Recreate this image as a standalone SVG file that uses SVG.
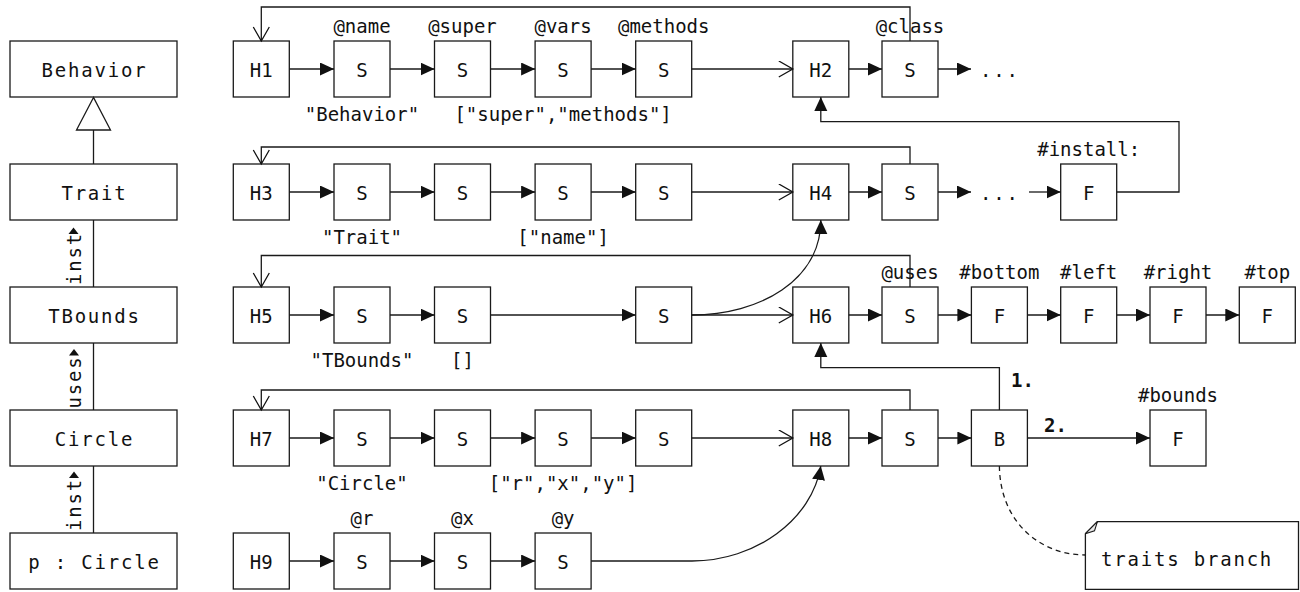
<svg xmlns="http://www.w3.org/2000/svg" width="1300" height="592" viewBox="0 0 1300 592">
<style>
  rect.n { fill: #fff; stroke: #1a1a1a; stroke-width: 1.3; }
  text { font-family: "DejaVu Sans Mono", "Liberation Mono", monospace; font-size: 19px; fill: #111; }
  text.c { text-anchor: middle; }
  text.sp { letter-spacing: 1.8px; }
  text.b { font-weight: bold; }
  .e { fill: none; stroke: #1a1a1a; stroke-width: 1.3; }
  .f { marker-end: url(#fa); }
  .o { marker-end: url(#oa); }
  .d { stroke-dasharray: 5 4; }
</style>
<defs>
  <marker id="fa" markerUnits="userSpaceOnUse" markerWidth="16" markerHeight="14" refX="14" refY="6.5" orient="auto">
    <path d="M0,0 L14,6.5 L0,13 Z" fill="#111"/>
  </marker>
  <marker id="oa" markerUnits="userSpaceOnUse" markerWidth="17" markerHeight="18" refX="15" refY="8.5" orient="auto">
    <path d="M1,0.5 L15,8.5 L1,16.5" fill="none" stroke="#111" stroke-width="1.3"/>
  </marker>
</defs>
<rect width="1300" height="592" fill="#fff"/>

<!-- left column classes -->
<g id="cls-behavior"><rect class="n" x="10" y="41" width="167" height="56"/><text class="c sp" x="94.5" y="76.5">Behavior</text></g>
<g id="cls-trait"><rect class="n" x="10" y="164" width="167" height="56"/><text class="c sp" x="94.5" y="199.5">Trait</text></g>
<g id="cls-tbounds"><rect class="n" x="10" y="287" width="167" height="56"/><text class="c sp" x="94.5" y="322.5">TBounds</text></g>
<g id="cls-circle"><rect class="n" x="10" y="410" width="167" height="56"/><text class="c sp" x="94.5" y="445.5">Circle</text></g>
<g id="obj-p"><rect class="n" x="10" y="533" width="167" height="56"/><text class="c sp" x="94.5" y="568.5">p : Circle</text></g>

<!-- row 1 -->
<g id="h1"><rect class="n" x="233.3" y="41" width="56" height="56"/><text class="c" x="261.3" y="77">H1</text></g>
<g id="r1s1"><rect class="n" x="334" y="41" width="56" height="56"/><text class="c" x="362" y="77">S</text></g>
<g id="r1s2"><rect class="n" x="434.5" y="41" width="56" height="56"/><text class="c" x="462.5" y="77">S</text></g>
<g id="r1s3"><rect class="n" x="535.1" y="41" width="56" height="56"/><text class="c" x="563.1" y="77">S</text></g>
<g id="r1s4"><rect class="n" x="635.7" y="41" width="56" height="56"/><text class="c" x="663.7" y="77">S</text></g>
<g id="h2"><rect class="n" x="792.8" y="41" width="56" height="56"/><text class="c" x="820.8" y="77">H2</text></g>
<g id="r1s5"><rect class="n" x="882" y="41" width="56" height="56"/><text class="c" x="910" y="77">S</text></g>

<!-- row 2 -->
<g id="h3"><rect class="n" x="233.3" y="164" width="56" height="56"/><text class="c" x="261.3" y="200">H3</text></g>
<g id="r2s1"><rect class="n" x="334" y="164" width="56" height="56"/><text class="c" x="362" y="200">S</text></g>
<g id="r2s2"><rect class="n" x="434.5" y="164" width="56" height="56"/><text class="c" x="462.5" y="200">S</text></g>
<g id="r2s3"><rect class="n" x="535.1" y="164" width="56" height="56"/><text class="c" x="563.1" y="200">S</text></g>
<g id="r2s4"><rect class="n" x="635.7" y="164" width="56" height="56"/><text class="c" x="663.7" y="200">S</text></g>
<g id="h4"><rect class="n" x="792.8" y="164" width="56" height="56"/><text class="c" x="820.8" y="200">H4</text></g>
<g id="r2s5"><rect class="n" x="882" y="164" width="56" height="56"/><text class="c" x="910" y="200">S</text></g>
<g id="r2f"><rect class="n" x="1060.7" y="164" width="56" height="56"/><text class="c" x="1088.7" y="200">F</text></g>

<!-- row 3 -->
<g id="h5"><rect class="n" x="233.3" y="287" width="56" height="56"/><text class="c" x="261.3" y="323">H5</text></g>
<g id="r3s1"><rect class="n" x="334" y="287" width="56" height="56"/><text class="c" x="362" y="323">S</text></g>
<g id="r3s2"><rect class="n" x="434.5" y="287" width="56" height="56"/><text class="c" x="462.5" y="323">S</text></g>
<g id="r3s4"><rect class="n" x="635.7" y="287" width="56" height="56"/><text class="c" x="663.7" y="323">S</text></g>
<g id="h6"><rect class="n" x="792.8" y="287" width="56" height="56"/><text class="c" x="820.8" y="323">H6</text></g>
<g id="r3s5"><rect class="n" x="882" y="287" width="56" height="56"/><text class="c" x="910" y="323">S</text></g>
<g id="r3f1"><rect class="n" x="971.4" y="287" width="56" height="56"/><text class="c" x="999.4" y="323">F</text></g>
<g id="r3f2"><rect class="n" x="1060.7" y="287" width="56" height="56"/><text class="c" x="1088.7" y="323">F</text></g>
<g id="r3f3"><rect class="n" x="1150" y="287" width="56" height="56"/><text class="c" x="1178" y="323">F</text></g>
<g id="r3f4"><rect class="n" x="1239.3" y="287" width="56" height="56"/><text class="c" x="1267.3" y="323">F</text></g>

<!-- row 4 -->
<g id="h7"><rect class="n" x="233.3" y="410" width="56" height="56"/><text class="c" x="261.3" y="446">H7</text></g>
<g id="r4s1"><rect class="n" x="334" y="410" width="56" height="56"/><text class="c" x="362" y="446">S</text></g>
<g id="r4s2"><rect class="n" x="434.5" y="410" width="56" height="56"/><text class="c" x="462.5" y="446">S</text></g>
<g id="r4s3"><rect class="n" x="535.1" y="410" width="56" height="56"/><text class="c" x="563.1" y="446">S</text></g>
<g id="r4s4"><rect class="n" x="635.7" y="410" width="56" height="56"/><text class="c" x="663.7" y="446">S</text></g>
<g id="h8"><rect class="n" x="792.8" y="410" width="56" height="56"/><text class="c" x="820.8" y="446">H8</text></g>
<g id="r4s5"><rect class="n" x="882" y="410" width="56" height="56"/><text class="c" x="910" y="446">S</text></g>
<g id="r4b"><rect class="n" x="971.4" y="410" width="56" height="56"/><text class="c" x="999.4" y="446">B</text></g>
<g id="r4f"><rect class="n" x="1150" y="410" width="56" height="56"/><text class="c" x="1178" y="446">F</text></g>

<!-- row 5 -->
<g id="h9"><rect class="n" x="233.3" y="533" width="56" height="56"/><text class="c" x="261.3" y="569">H9</text></g>
<g id="r5s1"><rect class="n" x="334" y="533" width="56" height="56"/><text class="c" x="362" y="569">S</text></g>
<g id="r5s2"><rect class="n" x="434.5" y="533" width="56" height="56"/><text class="c" x="462.5" y="569">S</text></g>
<g id="r5s3"><rect class="n" x="535.1" y="533" width="56" height="56"/><text class="c" x="563.1" y="569">S</text></g>

<!-- note -->
<g id="note">
  <path d="M1097.4,521.7 H1298.5 V589.3 H1085.4 V533.7 Z" fill="#fff" stroke="#1a1a1a" stroke-width="1.3"/>
  <path d="M1085.4,533.7 L1097.4,521.7 L1094.5,530.8 Z" fill="#e8e8e8" stroke="#1a1a1a" stroke-width="1.1"/>
  <text class="sp" x="1101" y="566">traits branch</text>
</g>

<!-- connectors -->
<g id="connectors">
  <!-- left column -->
  <path class="e" d="M93.5,164 V130"/>
  <path d="M93.5,97.5 L76.5,130 H110.5 Z" fill="#fff" stroke="#1a1a1a" stroke-width="1.3"/>
  <path class="e" d="M93.5,220 V287"/>
  <path class="e" d="M93.5,343 V410"/>
  <path class="e" d="M93.5,466 V533"/>

  <!-- row 1 -->
  <path class="e f" d="M289.3,69 H334"/>
  <path class="e f" d="M390,69 H434.5"/>
  <path class="e f" d="M490.5,69 H535.1"/>
  <path class="e f" d="M591.1,69 H635.7"/>
  <path class="e o" d="M691.7,69 H792.8"/>
  <path class="e f" d="M848.8,69 H882"/>
  <path class="e f" d="M938,69 H971"/>
  <path class="e o" d="M910,41 V7 H261.3 V41"/>

  <!-- row 2 -->
  <path class="e f" d="M289.3,192 H334"/>
  <path class="e f" d="M390,192 H434.5"/>
  <path class="e f" d="M490.5,192 H535.1"/>
  <path class="e f" d="M591.1,192 H635.7"/>
  <path class="e o" d="M691.7,192 H792.8"/>
  <path class="e f" d="M848.8,192 H882"/>
  <path class="e f" d="M938,192 H971"/>
  <path class="e f" d="M1029,192 H1060.7"/>
  <path class="e o" d="M910,164 V147 H261.3 V164"/>
  <path class="e f" d="M1116.7,192 H1179 V121.7 H820.8 V97"/>

  <!-- row 3 -->
  <path class="e f" d="M289.3,315 H334"/>
  <path class="e f" d="M390,315 H434.5"/>
  <path class="e f" d="M490.5,315 H635.7"/>
  <path class="e o" d="M691.7,315 H792.8"/>
  <path class="e f" d="M691.7,315 C760,315 821,280 820.8,220"/>
  <path class="e f" d="M848.8,315 H882"/>
  <path class="e f" d="M938,315 H971.4"/>
  <path class="e f" d="M1027.4,315 H1060.7"/>
  <path class="e f" d="M1116.7,315 H1150"/>
  <path class="e f" d="M1206,315 H1239.3"/>
  <path class="e o" d="M910,287 V255.5 H261.3 V287"/>

  <!-- row 4 -->
  <path class="e f" d="M289.3,438 H334"/>
  <path class="e f" d="M390,438 H434.5"/>
  <path class="e f" d="M490.5,438 H535.1"/>
  <path class="e f" d="M591.1,438 H635.7"/>
  <path class="e o" d="M691.7,438 H792.8"/>
  <path class="e f" d="M848.8,438 H882"/>
  <path class="e f" d="M938,438 H971.4"/>
  <path class="e f" d="M1027.4,438 H1150"/>
  <path class="e o" d="M910,410 V390 H261.3 V410"/>
  <path class="e f" d="M999.4,410 V367.7 H820.8 V343"/>
  <path class="e d" d="M999.4,466 C1000,522 1040,555 1085.4,555"/>

  <!-- row 5 -->
  <path class="e f" d="M289.3,561 H334"/>
  <path class="e f" d="M390,561 H434.5"/>
  <path class="e f" d="M490.5,561 H535.1"/>
  <path class="e f" d="M591.1,561 H692 C755,561 812,520 820.8,466"/>
</g>

<!-- rotated association labels -->
<g id="assoc-labels">
  <text class="sp" transform="translate(81,285) rotate(-90)">inst</text>
  <path d="M73.5,227.5 L68.5,234 H78.5 Z" fill="#111"/>
  <text class="sp" transform="translate(81,408.5) rotate(-90)">uses</text>
  <path d="M74,349 L69,355.5 H79 Z" fill="#111"/>
  <text class="sp" transform="translate(81,531) rotate(-90)">inst</text>
  <path d="M74,471.5 L69,478 H79 Z" fill="#111"/>
</g>

<!-- value / field labels -->
<g id="labels">
  <text class="c" x="362" y="33">@name</text>
  <text class="c" x="462.5" y="33">@super</text>
  <text class="c" x="563.1" y="33">@vars</text>
  <text class="c" x="663.7" y="33">@methods</text>
  <text class="c" x="910" y="33">@class</text>
  <text x="980" y="77" class="sp">...</text>
  <text class="c" x="362" y="121">"Behavior"</text>
  <text class="c" x="563.1" y="121">["super","methods"]</text>

  <text class="c" x="1088.7" y="156">#install:</text>
  <text x="980" y="200" class="sp">...</text>
  <text class="c" x="362" y="244">"Trait"</text>
  <text class="c" x="563.1" y="244">["name"]</text>

  <text class="c" x="910" y="279">@uses</text>
  <text class="c" x="999.4" y="279">#bottom</text>
  <text class="c" x="1088.7" y="279">#left</text>
  <text class="c" x="1178" y="279">#right</text>
  <text class="c" x="1267.3" y="279">#top</text>
  <text class="c" x="362" y="367">"TBounds"</text>
  <text class="c" x="462.5" y="367">[]</text>

  <text class="c" x="1178" y="401.5">#bounds</text>
  <text class="b" x="1011" y="386.5">1.</text>
  <text class="b" x="1044" y="431.5">2.</text>
  <text class="c" x="362" y="490">"Circle"</text>
  <text class="c" x="563.1" y="490">["r","x","y"]</text>

  <text class="c" x="362" y="524.5">@r</text>
  <text class="c" x="462.5" y="524.5">@x</text>
  <text class="c" x="563.1" y="524.5">@y</text>
</g>
</svg>
